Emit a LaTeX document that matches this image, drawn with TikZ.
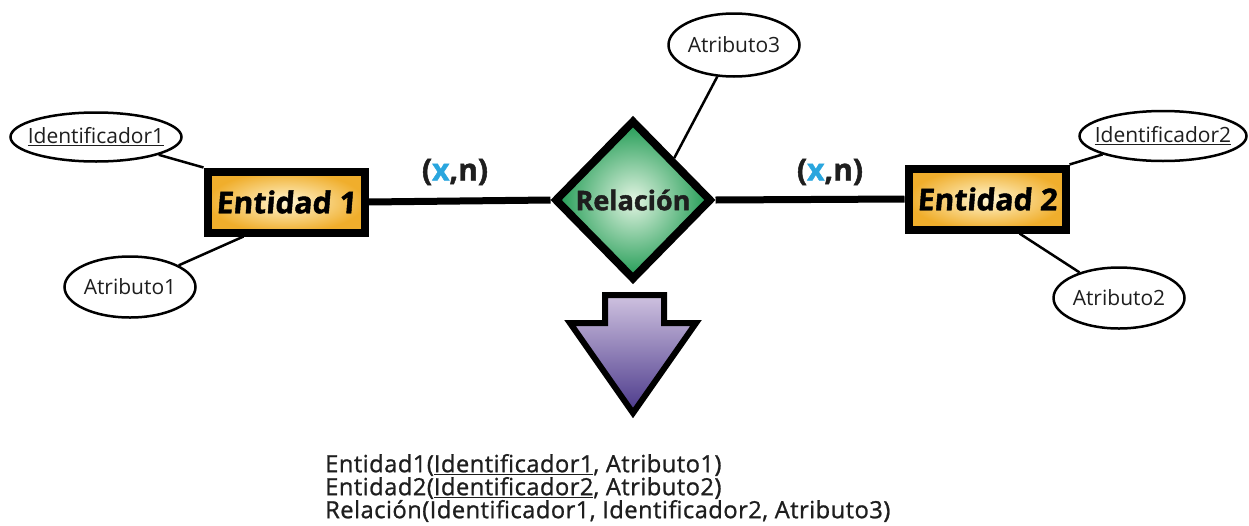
\documentclass[tikz,border=0pt]{standalone}
\usepackage{fontspec}
\setmainfont{Open Sans}
\newfontfamily\heavy{Open Sans}[FakeSlant=0.08,FakeBold=1.5]
\newfontfamily\heavyup{Open Sans}[FakeBold=1.5]
\newfontfamily\semib{Open Sans}[FakeBold=1.0,LetterSpace=2]
\usetikzlibrary{shapes.geometric}
\definecolor{gold}{HTML}{F0AE2C}
\definecolor{lightgold}{HTML}{FFF6D2}
\definecolor{dgreen}{HTML}{1E9A52}
\definecolor{lgreen}{HTML}{E2F4E2}
\definecolor{lpurple}{HTML}{CFC2E0}
\definecolor{dpurple}{HTML}{4A388A}
\definecolor{xblue}{HTML}{2AA6DE}
\definecolor{ink}{HTML}{1E1E1E}
\newcommand{\zw}[1]{\makebox[0pt]{#1}}
\tikzset{
  entbox/.style={rectangle, draw=black, line width=8, inner sep=0,
    minimum width=157, minimum height=61, inner color=lightgold, outer color=gold,
    font=\heavy\bfseries\fontsize{30}{30}\selectfont},
  relbox/.style={diamond, draw=black, line width=8, inner sep=0,
    minimum width=157, minimum height=160, inner color=lgreen, outer color=dgreen,
    font=\heavyup\bfseries\fontsize{27}{27}\selectfont, text=ink},
  attr/.style={ellipse, draw=black, line width=2.5, fill=white, inner sep=0,
    font=\fontsize{21}{21}\selectfont, text=ink},
  thick link/.style={line width=7},
  thin link/.style={line width=2.5},
  card/.style={font=\heavyup\bfseries\fontsize{30}{30}\selectfont, text=ink}
}
\begin{document}
\begin{tikzpicture}[x=1pt,y=-1pt]
\useasboundingbox (0,0) rectangle (1249,525);
% nodes
\node[entbox] (e1) at (286,202) {Entidad 1};
\node[entbox] (e2) at (987,199) {Entidad 2};
\node[relbox] (rel) at (633,200) {Relación};
\node[attr, minimum width=171, minimum height=49] (id1) at (96,137) {\zw{\underline{Identificador1}}};
\node[attr, minimum width=131, minimum height=61] (at1) at (130,287) {\zw{Atributo1}};
\node[attr, minimum width=131, minimum height=63] (at3) at (734,45) {\zw{Atributo3}};
\node[attr, minimum width=167, minimum height=50] (id2) at (1163,136) {\zw{\underline{Identificador2}}};
\node[attr, minimum width=131, minimum height=61] (at2) at (1119,298) {\zw{Atributo2}};
\node[card] (c1) at (455,172) {(\textcolor{xblue}{x},n)};
\node[card] (c2) at (830,172) {(\textcolor{xblue}{x},n)};
% connectors
\draw[thick link] (e1.east) -- (rel.west);
\draw[thick link] (rel.east) -- (e2.west);
\draw[thin link] (id1) -- (e1.north west);
\draw[thin link] (at1) -- ([xshift=40]e1.south west);
\draw[thin link] (at3) -- (rel.north east);
\draw[thin link] (id2) -- (e2.north east);
\draw[thin link] (at2) -- ([xshift=-50]e2.south east);
% down arrow
\shadedraw[top color=lpurple, bottom color=dpurple, line width=6, line join=miter]
  (605,295) -- (664,295) -- (664,323) -- (696,323) -- (633,413) -- (570,323) -- (605,323) -- cycle;
% relational schema
\node[anchor=west, align=left, inner sep=0, text=ink, font=\semib\fontsize{23.7}{23}\selectfont] (schema) at (325,488)
  {Entidad1(\underline{Identificador1}, Atributo1)\\
   Entidad2(\underline{Identificador2}, Atributo2)\\
   Relación(Identificador1, Identificador2, Atributo3)};
\end{tikzpicture}
\end{document}
